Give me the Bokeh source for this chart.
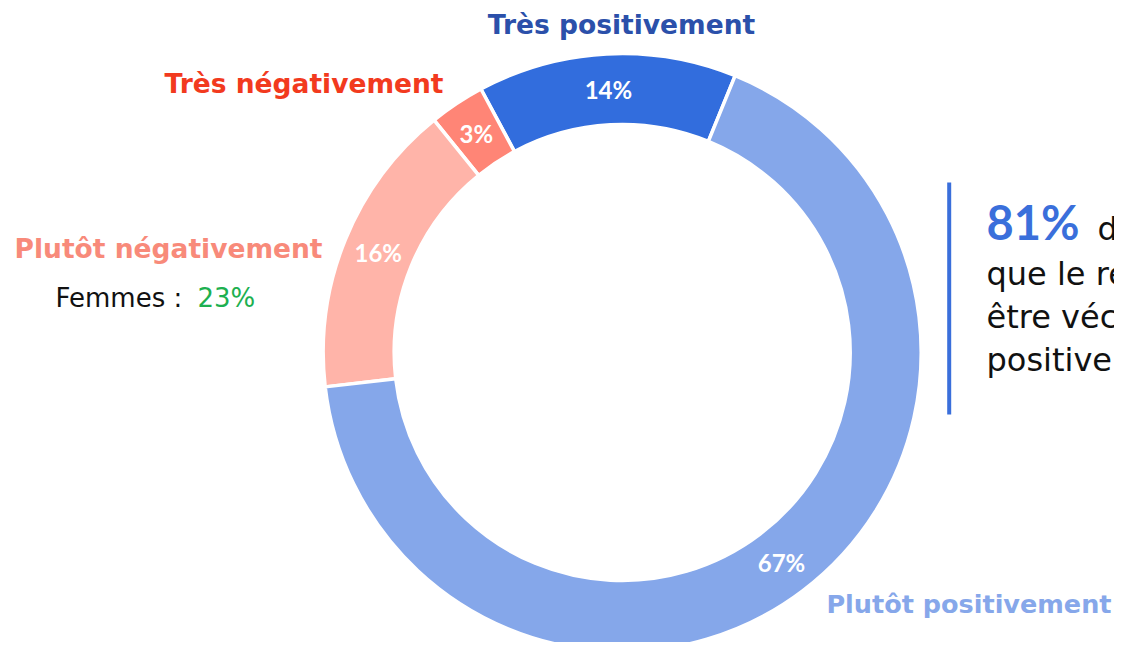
import numpy as np
from bokeh.plotting import figure
from bokeh.models import ColumnDataSource, Range1d, Label
from bokeh.core.properties import value
from bokeh.embed import file_html
from bokeh.resources import INLINE

# ---- data ----
categories = ["Très positivement", "Très négativement", "Plutôt négativement", "Plutôt positivement"]
shares = [14, 3, 16, 67]
pct_labels = ["14%", "3%", "16%", "67%"]
wedge_colors = ["#326DDD", "#FF8576", "#FFB4A9", "#85A7EA"]
label_colors = ["#2B50AA", "#F23A1E", "#F88A7A", "#86A7EA"]
femmes_label = "Femmes :"
femmes_value = "23%"
headline_value = "81%"
headline_lines = ["des répondants estiment", "que le retour au bureau peut", "être vécu", "positivement"]

# ---- layout ----
W, H = 1114, 642
def sy(y):
    return H - y

cx, cy = 621.7, sy(352)
r_in, r_out = 228, 299
start = np.deg2rad(67.8)

vals = np.array(shares, dtype=float)
frac = vals / vals.sum()
ends = start + np.cumsum(frac) * 2 * np.pi
starts = ends - frac * 2 * np.pi
mids = (starts + ends) / 2
r_mid = (r_in + r_out) / 2

src = ColumnDataSource(dict(
    cat=categories, start=starts, end=ends, color=wedge_colors,
    lx=cx + r_mid * np.cos(mids), ly=cy + r_mid * np.sin(mids), lab=pct_labels,
))

p = figure(width=W, height=H, output_backend="svg", toolbar_location=None,
           x_range=Range1d(0, W), y_range=Range1d(0, H), min_border=0)
p.axis.visible = False
p.grid.visible = False
p.outline_line_color = None
p.background_fill_color = "white"
p.border_fill_color = "white"

p.annular_wedge(x=cx, y=cy, inner_radius=r_in, outer_radius=r_out,
                start_angle="start", end_angle="end", fill_color="color",
                line_color="white", line_width=3.5, source=src)
p.text(x="lx", y="ly", text="lab", source=src, text_color="white",
       text_font=value("Lato"), text_font_style="bold", text_font_size="24px",
       text_align="center", text_baseline="middle")

# category labels
cat_pos = [
    (621, 24, "center", "26.5px"),
    (443, 83, "right", "26.5px"),
    (322, 248, "right", "26.5px"),
    (1111, 603, "right", "25.5px"),
]
for (x, y, al, fs), txt, col in zip(cat_pos, categories, label_colors):
    p.add_layout(Label(x=x, y=sy(y), text=txt, text_color=col, text_align=al,
                       text_baseline="middle", text_font="DejaVu Sans",
                       text_font_style="bold", text_font_size=fs))

p.add_layout(Label(x=55, y=sy(297), text=femmes_label, text_color="#111111",
                   text_align="left", text_baseline="middle",
                   text_font="DejaVu Sans", text_font_size="26px"))
p.add_layout(Label(x=197, y=sy(297), text=femmes_value, text_color="#1DB050",
                   text_align="left", text_baseline="middle",
                   text_font="DejaVu Sans", text_font_size="26px"))

# right-hand callout
p.segment(x0=[948.7], y0=[sy(182)], x1=[948.7], y1=[sy(414)],
          line_color="#3A6FDB", line_width=4)
p.add_layout(Label(x=986, y=sy(221), text=headline_value, text_color="#3A6FDB",
                   text_align="left", text_baseline="middle",
                   text_font="Lato", text_font_style="bold", text_font_size="47px"))
mids_y = [228, 273, 316, 359]
xs = [1097, 986, 986, 986]
for x, m, t in zip(xs, mids_y, headline_lines):
    p.add_layout(Label(x=x, y=sy(m), text=t, text_color="#111111",
                       text_align="left", text_baseline="middle",
                       text_font="DejaVu Sans", text_font_size="32px"))

open("out.html", "w").write(file_html(p, INLINE))
